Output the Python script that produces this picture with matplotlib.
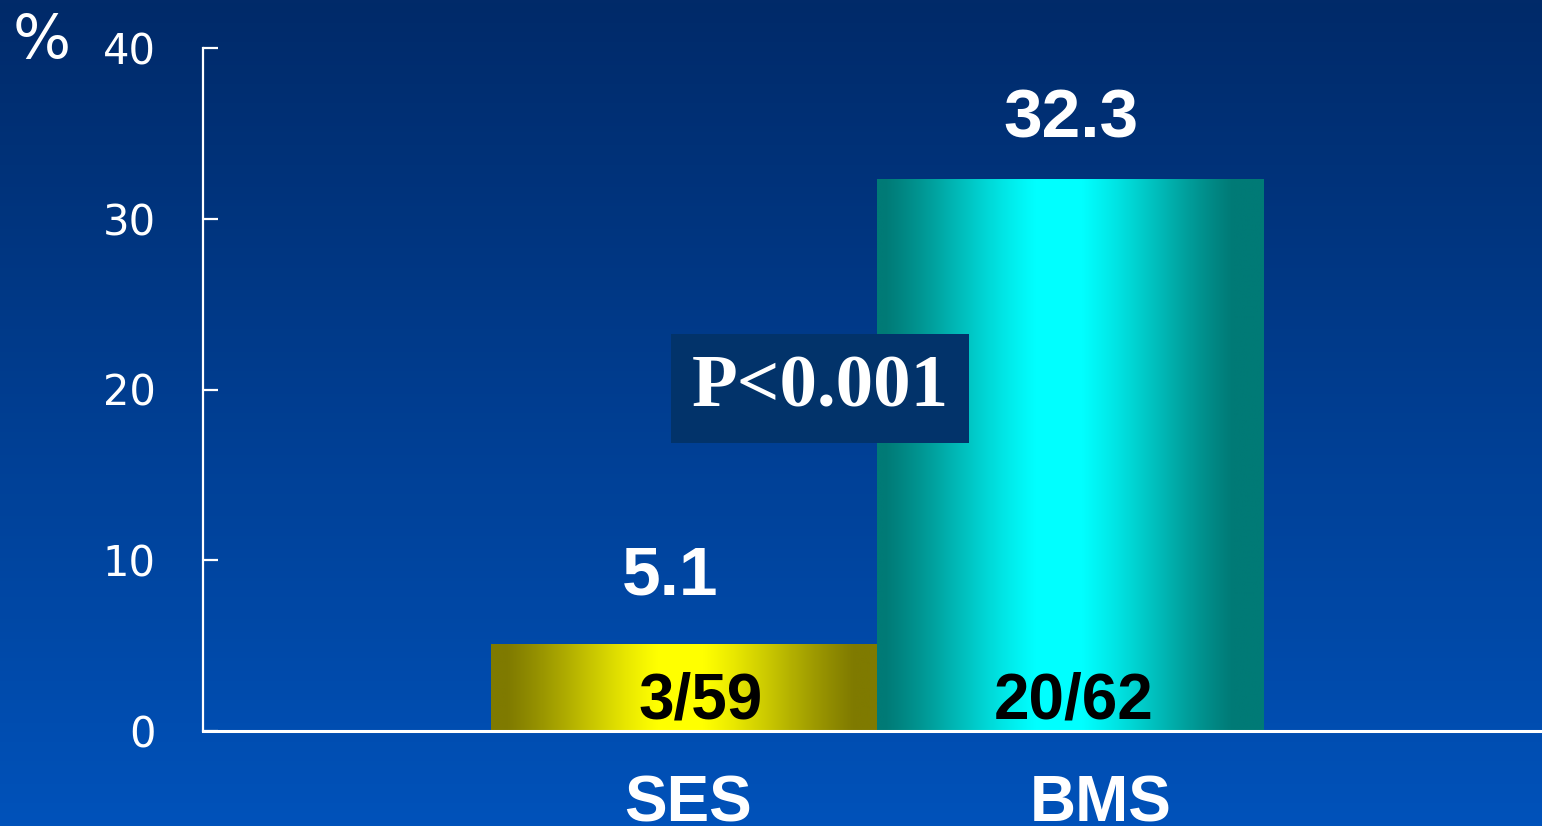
import numpy as np
import matplotlib
matplotlib.use("Agg")
import matplotlib.pyplot as plt
from matplotlib.colors import to_rgb

# Data
groups = ["SES", "BMS"]
rates = [5.1, 32.3]
counts = ["3/59", "20/62"]
p_text = "P<0.001"
yticks = [0, 10, 20, 30, 40]

# Styling
bar_dark = ["#7f7a00", "#007a76"]
bar_bright = ["#ffff00", "#00ffff"]
bar_center = [0.49, 0.47]
bg_top, bg_bottom = "#012a69", "#0052ba"

W, H = 1542, 826
fig = plt.figure(figsize=(W / 100, H / 100), dpi=100)

# Vertical background gradient
bg = fig.add_axes([0, 0, 1, 1], zorder=0)
t = np.linspace(0, 1, 256)[:, None]
c0, c1 = np.array(to_rgb(bg_top)), np.array(to_rgb(bg_bottom))
grad = c0[None, None, :] * (1 - t[..., None]) + c1[None, None, :] * t[..., None]
grad = np.repeat(grad, 2, axis=1)
bg.imshow(grad, aspect="auto", extent=(0, 1, 0, 1), origin="upper")
bg.set_axis_off()

ax = fig.add_axes([203 / W, (H - 731) / H, (W - 203) / W, (731 - 48) / H], zorder=1)
ax.patch.set_alpha(0)

x = np.arange(len(groups))
bars = ax.bar(x, rates, width=1.0, color="none", edgecolor="none")

# Horizontal metallic shading inside each bar
tt = np.linspace(0, 1, 400)
for i, b in enumerate(bars):
    d = np.abs(tt - bar_center[i])
    s = np.clip((0.45 - d) / (0.45 - 0.06), 0, 1)
    s = 0.75 * s + 0.25 * (0.5 - 0.5 * np.cos(np.pi * s))
    dk, br = np.array(to_rgb(bar_dark[i])), np.array(to_rgb(bar_bright[i]))
    row = dk[None, :] * (1 - s[:, None]) + br[None, :] * s[:, None]
    img = np.repeat(row[None, :, :], 2, axis=0)
    x0, w, h = b.get_x(), b.get_width(), b.get_height()
    im = ax.imshow(img, aspect="auto", extent=(x0, x0 + w, 0, h),
                   origin="lower", zorder=2, interpolation="bilinear")
    im.set_clip_path(b)

ax.set_xlim(-1.2445, 2.2199)
ax.set_ylim(0, 40)

# Axes styling
for side in ("top", "right"):
    ax.spines[side].set_visible(False)
ax.spines["left"].set_color("white")
ax.spines["left"].set_linewidth(1.6)
ax.spines["bottom"].set_color("white")
ax.spines["bottom"].set_linewidth(2.2)
ax.spines["bottom"].set_zorder(5)
ax.set_yticks(yticks)
ax.tick_params(axis="y", direction="in", length=11, width=1.6, colors="white",
               labelsize=30, pad=34)
for lab in ax.get_yticklabels():
    lab.set_fontfamily("DejaVu Sans")
ax.set_xticks([])

# Value labels above bars
val_dx = [-14, 0]
val_dy = [49, 42]
for i, v in enumerate(rates):
    ax.annotate(f"{v:.1f}", xy=(x[i], v), xytext=(val_dx[i], val_dy[i]),
                textcoords="offset pixels", ha="center", va="baseline",
                color="white", fontsize=50, fontweight="bold",
                fontfamily="Liberation Sans", zorder=6)

# Counts inside bars
cnt_dx = [17, 3]
for i, c in enumerate(counts):
    ax.annotate(c, xy=(x[i], 0), xytext=(cnt_dx[i], 13),
                textcoords="offset pixels", ha="center", va="baseline",
                color="black", fontsize=46, fontweight="bold",
                fontfamily="Liberation Sans", zorder=6)

# Group labels below axis
grp_dx = [4, 30]
for i, g in enumerate(groups):
    ax.annotate(g, xy=(x[i], 0), xytext=(grp_dx[i], -90),
                textcoords="offset pixels", ha="center", va="baseline",
                color="white", fontsize=46, fontweight="bold",
                fontfamily="Liberation Sans", annotation_clip=False, zorder=6)

# Significance box
ax.text(0.352, 20.05, p_text, ha="center", va="center", color="white",
        fontsize=54, fontweight="bold", fontfamily="Liberation Serif", zorder=7,
        bbox=dict(boxstyle="square,pad=0.27", facecolor="#02336a", edgecolor="none"))

# Unit label
fig.text(13 / W, 1 - 58 / H, "%", color="white", fontsize=44,
         fontfamily="DejaVu Sans", ha="left", va="baseline")

fig.savefig("out.png", dpi=100)
